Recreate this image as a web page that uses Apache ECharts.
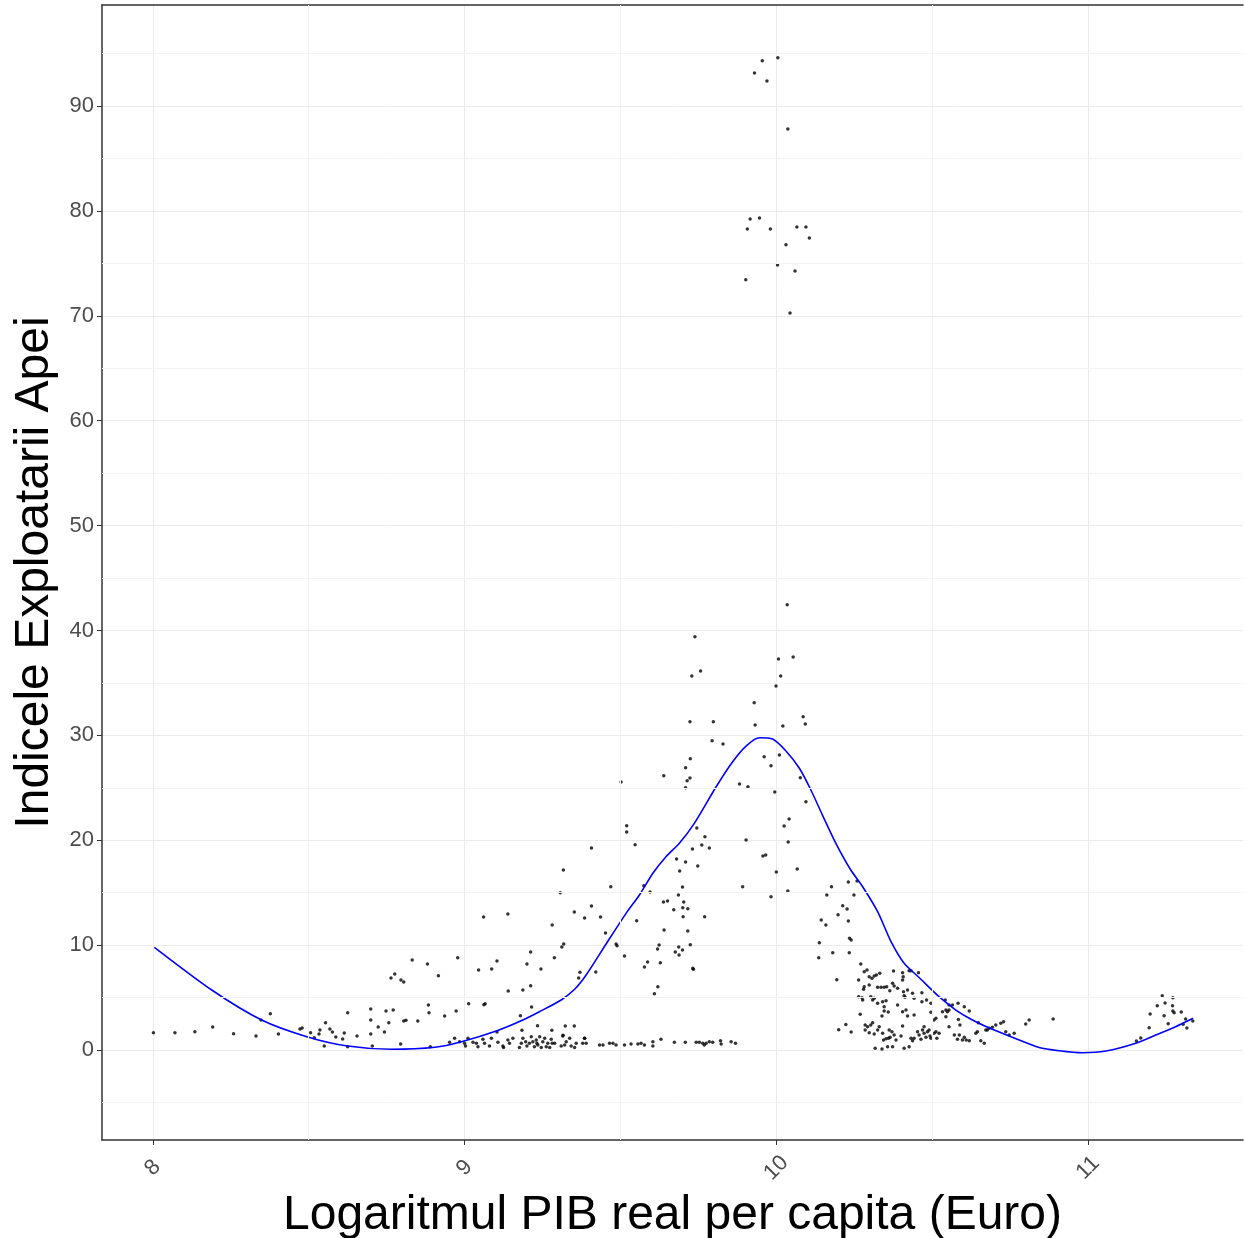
<!DOCTYPE html>
<html>
<head>
<meta charset="utf-8">
<script src="https://cdn.jsdelivr.net/npm/echarts@6/dist/echarts.min.js"></script>
<style>
  html, body { margin: 0; padding: 0; background: #fff; }
  #chart { width: 1244px; height: 1238px; }
</style>
</head>
<body>
<div id="chart"></div>
<script>
// tick values
const xTicks = [8, 9, 10, 11];
const yTicks = [0, 10, 20, 30, 40, 50, 60, 70, 80, 90];
const xMinorGrid = [8.5, 9.5, 10.5, 11.5];
const yMinorGrid = [-5, 5, 15, 25, 35, 45, 55, 65, 75, 85, 95];

const leftPoints = [
  [8.002,1.65],[8.071,1.65],[8.135,1.74],[8.192,2.19],[8.259,1.55],[8.331,1.33],[8.347,2.86],[8.377,3.46],
  [8.403,1.53],[8.472,2.00],[8.479,2.10],[8.506,1.65],[8.518,1.17],[8.533,1.53],[8.536,1.91],[8.550,0.38],
  [8.554,2.60],[8.568,2.00],[8.576,1.72],[8.587,1.24],[8.609,1.05],[8.614,1.62],[8.625,3.56],[8.625,0.31],
  [8.655,1.33],[8.699,3.91],[8.699,2.86],[8.699,1.53],[8.704,0.38],[8.723,2.19],[8.743,1.72],[8.748,3.72],
  [8.757,2.60],[8.764,6.86],[8.776,7.25],[8.771,3.81],[8.796,6.67],[8.805,6.48],[8.795,0.57],[8.805,2.76],
  [8.812,2.83],[8.832,8.58],[8.850,2.76],[8.881,8.20],[8.884,4.29],[8.886,3.56],[8.890,0.31],[8.916,7.08],
  [8.936,3.24],[8.973,3.72],[8.978,8.80]
];
const midPoints = [
  [9.013,4.41],[9.045,7.63],[9.061,12.68],[9.062,4.32],[9.066,4.41],[9.087,7.72],[9.104,8.49],[9.139,12.97],
  [9.140,5.62],[9.187,5.72],[9.200,8.20],[9.212,9.34],[9.212,6.13],[9.215,4.10],[9.179,3.27],[9.245,7.72],
  [9.281,11.92],[9.288,8.80],[9.307,15.00],[9.312,9.82],[9.318,10.11],[9.317,17.16],[9.352,13.16],[9.366,6.86],
  [9.370,7.41],[9.385,12.58],[9.407,19.26],[9.407,13.73],[9.421,7.44],[9.436,12.68],[9.452,11.15],[9.469,15.57],
  [9.486,10.11],[9.489,9.94],[9.513,8.96],[9.520,21.38],[9.520,20.78],[9.547,19.57],[9.552,12.33],[9.104,1.72],
  [9.184,1.88],[9.234,2.32],[9.280,1.88],[9.323,2.29],[9.352,2.29],[9.316,1.40],[9.385,1.12]
];
const lowBand = [
  [8.952,0.73],[8.968,1.11],[8.984,0.79],[9.000,0.64],[9.003,0.38],[9.011,1.11],[9.027,0.73],[9.038,0.64],
  [9.043,0.32],[9.059,1.02],[9.064,0.64],[9.080,0.38],[9.086,1.11],[9.107,0.73],[9.123,0.38],[9.125,0.25],
  [9.139,0.95],[9.144,0.64],[9.155,1.11],[9.176,0.25],[9.182,0.64],[9.187,1.11],[9.196,0.79],[9.200,0.38],
  [9.208,0.64],[9.214,1.27],[9.219,0.79],[9.224,0.32],[9.230,0.95],[9.232,0.64],[9.235,0.48],[9.241,1.27],
  [9.246,0.25],[9.251,0.79],[9.257,1.11],[9.262,0.32],[9.267,0.64],[9.273,0.25],[9.278,1.02],[9.281,0.64],
  [9.289,0.64],[9.310,0.38],[9.315,1.33],[9.321,0.48],[9.326,0.79],[9.337,1.11],[9.342,0.38],[9.353,0.25],
  [9.358,0.64],[9.379,0.64],[9.385,1.11],[9.390,0.64],[9.433,0.48],[9.444,0.48],[9.465,0.64],[9.476,0.64],
  [9.486,0.48],[9.513,0.48],[9.534,0.57],[9.556,0.57],[9.566,0.64],[9.577,0.48],[9.604,0.79],[9.604,0.38],
  [9.630,1.02],[9.673,0.73],[9.708,0.73],[9.743,0.73],[9.753,0.73],[9.764,0.64],[9.769,0.48],[9.775,0.64],
  [9.785,0.79],[9.796,0.73],[9.821,0.89],[9.823,0.57],[9.855,0.79],[9.869,0.64]
];
const peakPoints = [
  [9.739,39.41],[9.729,35.66],[9.757,36.13],[9.723,31.30],[9.798,31.30],[9.794,29.49],[9.829,29.17],[9.929,33.11],
  [9.932,30.98],[9.999,34.70],[10.007,37.28],[9.724,27.77],[9.709,26.91],[9.714,25.67],[9.723,25.93],[9.709,25.01],
  [9.639,26.15],[9.502,25.55],[9.882,25.36],[9.909,25.10],[9.961,27.96],[9.983,27.10],[9.995,24.60],[10.010,28.12],
  [9.745,21.17],[9.771,20.34],[9.761,19.54],[9.731,19.16],[9.785,19.26],[9.903,20.02],[9.680,18.21],[9.709,17.92],
  [9.690,17.07],[9.748,17.54],[9.957,18.50],[9.966,18.59],[10.000,16.97],[9.575,15.66],[9.595,15.06],[9.699,15.54],
  [9.686,14.78],[9.638,14.11],[9.651,14.21],[9.703,14.11],[9.671,13.38],[9.700,13.57],[9.716,13.47],[9.701,12.71],
  [9.770,12.71],[9.892,15.57],[9.983,14.62],[9.640,11.44],[9.716,11.35],[9.619,9.63],[9.624,10.01],[9.687,9.82],
  [9.699,9.53],[9.676,9.34],[9.688,9.06],[9.724,10.04],[9.587,8.39],[9.577,7.91],[9.628,8.32],[9.732,7.79],
  [9.734,7.70],[9.620,6.03],[9.609,5.37]
];
const rightPoints = [
  [10.035,42.46],[10.054,37.47],[10.014,35.66],[10.086,31.78],[10.093,31.08],[10.021,30.89],[10.077,25.96],[10.095,23.67],
  [10.025,21.36],[10.041,22.02],[10.038,19.83],[10.067,17.26],[10.037,15.16],[10.231,16.02],[10.259,16.11],[10.177,15.57],
  [10.162,14.78],[10.249,14.78],[10.213,13.76],[10.227,13.44],[10.198,12.90],[10.144,12.39],[10.159,11.92],[10.231,12.30],
  [10.235,10.65],[10.240,10.49],[10.138,10.23],[10.136,8.80],[10.181,9.28],[10.234,9.28],[10.194,6.70],[10.200,1.94],
  [10.223,2.42],[10.240,1.72]
];
const clusterPoints = [
  [10.271,8.20],[10.282,7.46],[10.291,7.63],[10.264,6.67],[10.298,6.99],[10.307,6.84],[10.314,7.06],[10.321,7.15],
  [10.332,7.31],[10.282,6.03],[10.280,5.79],[10.298,6.20],[10.325,5.98],[10.336,5.98],[10.346,5.98],[10.354,6.03],
  [10.364,5.65],[10.373,6.36],[10.378,6.10],[10.376,7.53],[10.405,7.37],[10.407,6.99],[10.405,6.67],[10.426,7.56],
  [10.432,7.56],[10.456,7.37],[10.389,5.88],[10.408,5.56],[10.410,5.18],[10.413,5.02],[10.421,5.72],[10.437,5.41],
  [10.442,4.93],[10.467,5.46],[10.467,4.61],[10.482,4.77],[10.264,5.08],[10.275,4.99],[10.277,4.77],[10.303,5.08],
  [10.309,4.77],[10.314,4.93],[10.325,4.45],[10.341,4.61],[10.352,4.70],[10.346,4.13],[10.346,3.72],[10.359,3.62],
  [10.339,3.24],[10.389,4.29],[10.416,3.81],[10.421,3.24],[10.442,3.34],[10.405,3.65],[10.496,4.45],[10.496,3.59],
  [10.506,2.86],[10.512,3.02],[10.533,3.65],[10.542,4.77],[10.554,4.29],[10.565,4.29],[10.544,3.81],[10.549,3.65],
  [10.554,3.81],[10.583,4.45],[10.584,2.92],[10.603,4.13],[10.619,3.72],[10.544,3.18],[10.269,3.40],[10.285,2.38],
  [10.285,1.91],[10.293,2.22],[10.303,2.38],[10.309,2.60],[10.298,1.65],[10.314,1.53],[10.325,1.91],[10.330,2.22],
  [10.341,1.59],[10.362,1.91],[10.371,1.74],[10.378,1.43],[10.344,0.95],[10.352,1.08],[10.360,1.12],[10.365,1.21],
  [10.317,0.16],[10.339,0.10],[10.357,0.31],[10.373,0.31],[10.384,0.95],[10.400,1.33],[10.405,2.29],[10.410,0.16],
  [10.426,0.31],[10.432,1.12],[10.437,0.89],[10.442,1.12],[10.453,1.74],[10.458,1.43],[10.464,1.02],[10.469,1.91],
  [10.474,2.22],[10.474,1.59],[10.480,1.21],[10.485,1.74],[10.490,1.91],[10.493,1.33],[10.496,1.12],[10.506,1.59],
  [10.512,1.74],[10.515,1.12],[10.522,1.59],[10.554,2.22],[10.571,1.43],[10.581,1.02],[10.587,1.43],[10.597,0.95],
  [10.603,1.21],[10.609,0.95],[10.619,0.89],[10.589,2.38],[10.640,1.59],[10.645,1.74],[10.656,0.89],[10.667,0.64],
  [10.672,1.91],[10.677,1.91],[10.683,2.07],[10.693,2.16],[10.704,2.38],[10.720,2.54],[10.729,2.70],[10.736,1.74],
  [10.747,1.43],[10.763,1.59],[10.648,2.60],[10.800,2.48],[10.811,2.86],[10.888,2.96]
];
const farPoints = [
  [11.155,0.86],[11.169,1.14],[11.196,2.13],[11.199,3.43],[11.222,4.22],[11.238,5.18],[11.247,4.48],[11.244,3.27],
  [11.257,2.51],[11.272,4.99],[11.271,4.22],[11.272,3.72],[11.276,3.56],[11.299,3.62],[11.313,2.96],[11.305,2.45],
  [11.317,2.10],[11.336,2.76]
];
const topPoints = [
  [10.005,94.60],[9.955,94.32],[9.930,93.15],[9.970,92.38],[10.037,87.81],[9.916,79.22],[9.946,79.32],[9.907,78.27],
  [9.981,78.27],[10.066,78.46],[10.095,78.46],[10.106,77.42],[10.031,76.78],[10.004,74.84],[10.060,74.27],[9.902,73.44],
  [10.044,70.26]
];

// smoothed curve (loess-like)
const smoothX = [8.005,8.189,8.349,8.494,8.625,8.766,8.905,8.990,9.104,9.187,9.240,9.310,9.353,9.390,9.454,9.518,
  9.561,9.604,9.646,9.689,9.737,9.807,9.860,9.903,9.946,9.988,10.031,10.074,10.111,10.148,10.191,10.239,10.277,
  10.325,10.368,10.410,10.458,10.522,10.576,10.629,10.693,10.757,10.843,10.907,10.982,11.057,11.153,11.217,11.281,11.337];
const smoothY = [9.79,5.72,2.86,1.27,0.38,0.07,0.26,0.79,1.84,2.86,3.65,4.77,5.79,7.15,10.11,13.03,
  14.78,16.85,18.43,19.71,21.61,25.10,27.49,28.98,29.77,29.65,28.51,26.86,24.79,22.40,19.71,17.16,15.57,
  13.19,10.33,8.27,6.91,5.08,3.81,2.86,1.97,1.21,0.24,-0.07,-0.26,-0.10,0.64,1.43,2.22,3.02];

const allPoints = [].concat(leftPoints, midPoints, lowBand, peakPoints, rightPoints, clusterPoints, farPoints, topPoints);
const smoothData = smoothX.map((x, i) => [x, smoothY[i]]);

const FONT = 'Liberation Sans, Arial, sans-serif';
const X_MIN = 7.837, X_MAX = 11.497, Y_MIN = -8.58, Y_MAX = 99.63;

const option = {
  backgroundColor: '#fff',
  animation: false,
  grid: { left: 102, right: 1, top: 5, bottom: 98, outerBoundsMode: 'none', containLabel: false },
  xAxis: [
    {
      type: 'value',
      min: X_MIN,
      max: X_MAX,
      splitNumber: 4,
      name: 'Logaritmul PIB real per capita (Euro)',
      nameLocation: 'middle',
      nameGap: 49,
      nameTextStyle: { fontSize: 48, color: '#000', fontFamily: FONT },
      axisLine: { show: true, onZero: false, lineStyle: { color: '#333', width: 1.5 } },
      axisTick: { show: true, customValues: xTicks, length: 5, lineStyle: { color: '#333', width: 1 } },
      axisLabel: {
        customValues: xTicks, rotate: 45, fontSize: 22, color: '#4d4d4d', fontFamily: FONT,
        margin: 28, align: 'center', verticalAlign: 'middle'
      },
      splitLine: { show: true, lineStyle: { color: '#ebebeb', width: 1 } }
    },
    {
      type: 'value', position: 'top', min: X_MIN, max: X_MAX,
      axisLine: { show: true, onZero: false, lineStyle: { color: '#333', width: 1.5 } },
      axisTick: { show: false }, axisLabel: { show: false }, splitLine: { show: false }
    }
  ],
  yAxis: {
    type: 'value',
    min: Y_MIN,
    max: Y_MAX,
    splitNumber: 10,
    name: 'Indicele Exploatarii Apei',
    nameLocation: 'middle',
    nameGap: 40,
    nameTextStyle: { fontSize: 48, color: '#000', fontFamily: FONT },
    axisLine: { show: true, onZero: false, lineStyle: { color: '#333', width: 1.5 } },
    axisTick: { show: true, customValues: yTicks, length: 5, lineStyle: { color: '#333', width: 1 } },
    axisLabel: { customValues: yTicks, fontSize: 22, color: '#4d4d4d', fontFamily: FONT, margin: 8 },
    splitLine: { show: true, lineStyle: { color: '#ebebeb', width: 1 } }
  },
  series: [
    {
      type: 'line',
      data: [],
      silent: true,
      z: 1,
      markLine: {
        silent: true,
        symbol: ['none', 'none'],
        label: { show: false },
        lineStyle: { color: '#f3f3f3', width: 1, type: 'solid' },
        data: yMinorGrid.map(v => ({ yAxis: v })).concat(xMinorGrid.map(v => ({ xAxis: v })))
      }
    },
    {
      type: 'scatter',
      data: allPoints,
      symbol: 'circle',
      symbolSize: 3.5,
      itemStyle: { color: '#000' },
      z: 2
    },
    {
      type: 'line',
      data: smoothData,
      showSymbol: false,
      smooth: 0.25,
      lineStyle: { color: '#0000ff', width: 1.6 },
      z: 3
    }
  ]
};

const chart = echarts.init(document.getElementById('chart'));
chart.setOption(option);
</script>
</body>
</html>
